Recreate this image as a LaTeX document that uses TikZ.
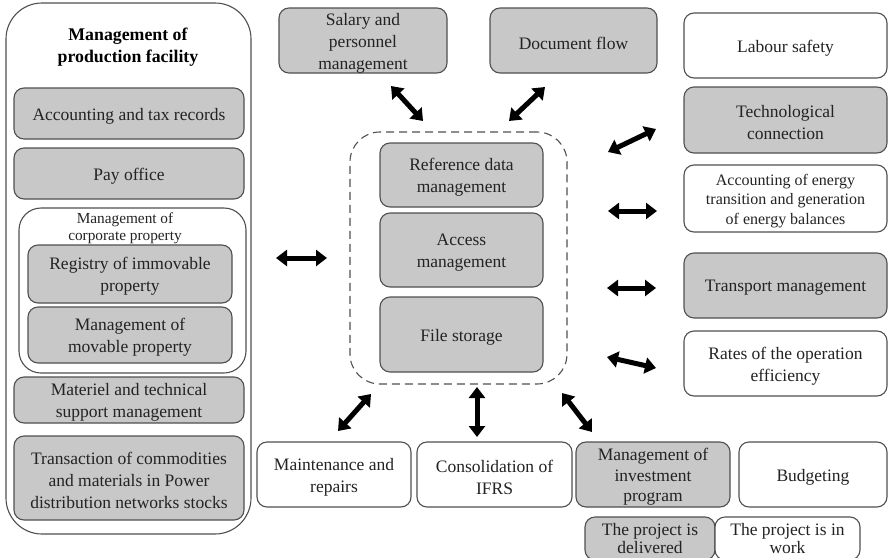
\documentclass[tikz,border=0pt]{standalone}
\usepackage{fontspec}
\setmainfont{Liberation Serif}
\usetikzlibrary{arrows.meta,fit}
\definecolor{boxfill}{RGB}{200,200,200}
\definecolor{edge}{RGB}{80,80,80}
\definecolor{ink}{RGB}{35,35,35}
% box spanning two corners, with its text centred inside
\newcommand\fitbox[6][]{%
  \node[#2, fit={(#4) (#5)}] (#3) {};
  \node[txt, #1] (#3-text) at (#3.center) {#6};}
\begin{document}
\begin{tikzpicture}[x=1pt,y=-1pt,
  base/.style={draw=edge, line width=1.1pt, rounded corners=10pt, inner sep=0pt},
  gbox/.style={base, fill=boxfill},
  wbox/.style={base, fill=white},
  txt/.style={align=center, text=ink, inner sep=0pt, yshift=-2.5pt,
    font=\fontsize{17.5}{22}\selectfont},
  frame/.style={draw=edge, line width=1.1pt, fill=white, inner sep=0pt},
  dbl/.style={line width=5pt, black,
    {Triangle[width=16pt,length=11pt]}-{Triangle[width=16pt,length=11pt]}}]
\useasboundingbox (0,0) rectangle (889,557);

% left column: production facility
\node[frame, rounded corners=36pt, fit={(6,3) (251,534)}] (facility) {};
\node[txt, yshift=0pt, text=black, font=\bfseries\fontsize{17.8}{22}\selectfont] (factitle) at (128,45)
  {Management of\\production facility};
\fitbox{gbox}{acc}{14,88}{244,139}{Accounting and tax records}
\fitbox{gbox}{pay}{14,148}{244,199}{Pay office}
\node[frame, rounded corners=22pt, fit={(19,208) (246,373)}] (corp) {};
\node[txt, yshift=0pt, font=\fontsize{15.3}{17}\selectfont] (corptitle) at (125,226)
  {Management of\\corporate property};
\fitbox{gbox}{reg}{28,245}{232,303}{Registry of immovable\\property}
\fitbox{gbox}{mov}{28,307}{232,363}{Management of\\movable property}
\fitbox{gbox}{mat}{14,377}{244,423}{Materiel and technical\\support management}
\fitbox{gbox}{trans}{14,436}{244,520}{Transaction of commodities\\and materials in Power\\distribution networks stocks}

% top row
\fitbox{gbox}{salary}{279,8}{447,73}{Salary and\\personnel\\management}
\fitbox{gbox}{docflow}{490,8}{657,73}{Document flow}

% central core
\node[draw=edge, line width=1.1pt, dash pattern=on 8pt off 5pt, rounded corners=30pt,
  inner sep=0pt, fit={(350,132) (567,384)}] (core) {};
\fitbox{gbox}{refdata}{380,143}{543,207}{Reference data\\management}
\fitbox{gbox}{access}{380,213}{543,287}{Access\\management}
\fitbox{gbox}{files}{380,297}{543,372}{File storage}

% right column
\fitbox{wbox}{labour}{684,13}{887,78}{Labour safety}
\fitbox{gbox}{tech}{684,87}{887,153}{Technological\\connection}
\fitbox[font=\fontsize{16}{19.5}\selectfont]{wbox}{energy}{684,165}{887,232}
  {Accounting of energy\\transition and generation\\of energy balances}
\fitbox{gbox}{transport}{684,253}{887,318}{Transport management}
\fitbox{wbox}{rates}{684,331}{887,396}{Rates of the operation\\efficiency}

% bottom row
\fitbox{wbox}{maint}{257,442}{411,507}{Maintenance and\\repairs}
\fitbox{wbox}{ifrs}{417,442}{572,507}{Consolidation of\\IFRS}
\fitbox[font=\fontsize{17.5}{20.5}\selectfont]{gbox}{invest}{576,442}{730,507}
  {Management of\\investment\\program}
\fitbox{wbox}{budget}{739,442}{887,507}{Budgeting}
\fitbox[yshift=2.5pt, font=\fontsize{17.5}{18.5}\selectfont]{gbox}{delivered}{585,517}{715,560}
  {The project is\\delivered}
\fitbox[yshift=2.5pt, font=\fontsize{17.5}{18.5}\selectfont]{wbox}{inwork}{715,517}{860,560}
  {The project is in\\work}

% arrow end points
\coordinate (fa) at (276,258);   \coordinate (fb) at (327,258);
\coordinate (sa) at (391,86);    \coordinate (sb) at (423,121);
\coordinate (da) at (545,87);    \coordinate (db) at (509,121);
\coordinate (ta) at (608,152);   \coordinate (tb) at (656,129);
\coordinate (ea) at (608,211);   \coordinate (eb) at (657,211);
\coordinate (pa) at (607,288);   \coordinate (pb) at (656,288);
\coordinate (ra) at (607,357);   \coordinate (rb) at (656,368);
\coordinate (ma) at (371,394);   \coordinate (mb) at (338,431);
\coordinate (ca) at (477,387);   \coordinate (cb) at (477,437);
\coordinate (ia) at (562,393);   \coordinate (ib) at (592,432);

\draw[dbl] (fa) -- (fb);
\draw[dbl] (sa) -- (sb);
\draw[dbl] (da) -- (db);
\draw[dbl] (ta) -- (tb);
\draw[dbl] (ea) -- (eb);
\draw[dbl] (pa) -- (pb);
\draw[dbl] (ra) -- (rb);
\draw[dbl] (ma) -- (mb);
\draw[dbl] (ca) -- (cb);
\draw[dbl] (ia) -- (ib);
\end{tikzpicture}
\end{document}
